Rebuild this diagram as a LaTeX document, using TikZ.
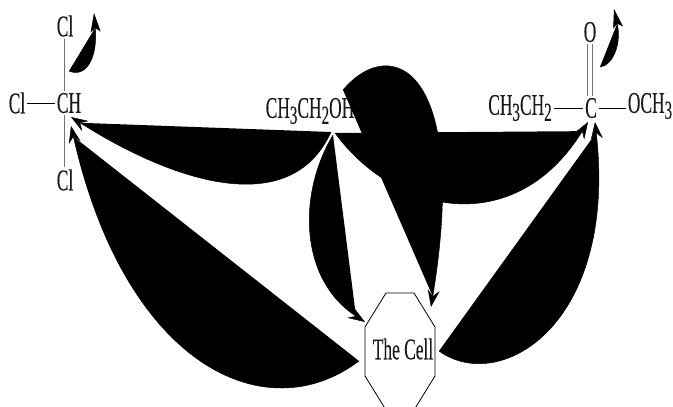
\documentclass[tikz,border=0pt]{standalone}
\usepackage{fontspec}
\setmainfont[FakeStretch=0.58,FakeBold=0.2]{Liberation Serif}
\usetikzlibrary{arrows.meta}
\newcommand{\sbs}[1]{\raisebox{-0.2em}{\fontsize{26}{28}\selectfont #1}}
\tikzset{
  chem/.style={inner sep=0pt,font=\fontsize{30}{32}\selectfont,text=black!90},
  bond/.style={line width=1pt,black,shorten >=2pt,shorten <=2pt},
  graybond/.style={line width=1pt,black!55,shorten >=2pt,shorten <=2pt},
  blob/.style={fill=black,draw=black,line width=0.5pt,-{Stealth[length=17pt,width=12pt,inset=6pt]}},
  smallblob/.style={fill=black,draw=black,line width=0.5pt,-{Stealth[length=19pt,width=10pt,inset=4pt]}},
  cell/.style={draw=black,line width=0.8pt,fill=white}
}
\begin{document}
\begin{tikzpicture}[x=1pt,y=-1pt]
\useasboundingbox (0,0) rectangle (673,407);
% labels
\node[chem] (cltop) at (65,26) {Cl};
\node[chem] (clleft) at (17,103) {Cl};
\node[chem] (ch) at (69,103) {CH};
\node[chem] (clbot) at (65,180) {Cl};
\node[chem] (etoh) at (310,111) {CH\sbs{3}CH\sbs{2}OH};
\node[chem] (ester) at (520,108) {CH\sbs{3}CH\sbs{2}};
\node[chem] (carb) at (591,108) {C};
\node[chem] (meth) at (650,106) {OCH\sbs{3}};
\node[chem] (oxy) at (590,32) {O};
% bonds
\draw[graybond] ([xshift=-1pt]cltop.south) -- ([xshift=-1pt]cltop.south |- ch.north);
\draw[graybond] ([xshift=-1pt]clbot.north) -- ([xshift=-1pt]clbot.north |- ch.south);
\draw[bond] (clleft.east) -- (ch.west);
\draw[graybond] ([xshift=-3pt]oxy.south) -- ([xshift=-3pt]oxy.south |- carb.north);
\draw[graybond] ([xshift=2pt]oxy.south) -- ([xshift=2pt]oxy.south |- carb.north);
\draw[bond] (ester.east) -- (carb.west);
\draw[bond] (carb.east) -- (carb.east -| meth.west);
% anchor coordinates
\coordinate (tipcla) at (94,13);
\coordinate (startcla) at (69,71);
\coordinate (tipo) at (614,9);
\coordinate (starto) at (600,67);
\coordinate (etohA) at (331,132);
\coordinate (etohB) at (333,135);
\coordinate (etohC) at (335,133);
\coordinate (chA) at (71,117);
\coordinate (chB) at (71,126);
\coordinate (cellW) at (359,361);
\coordinate (cellE) at (439,351);
\coordinate (cellNW) at (365,322);
\coordinate (cellNE) at (431,307);
\coordinate (carbA) at (588,122);
\coordinate (carbB) at (595,122);
\coordinate (blobS) at (343,90);
% filled arrows
\draw[smallblob] (startcla) .. controls (85,78) and (98,60) .. (tipcla);
\draw[smallblob] (starto) .. controls (612,66) and (622,45) .. (tipo);
\draw[blob] (cellW) .. controls (265,432) and (125,365) .. (chB);
\draw[blob] (etohA) .. controls (290,222) and (170,180) .. (chA);
\draw[blob] (etohB) .. controls (297,195) and (300,280) .. (cellNW);
\draw[blob] (etohC) .. controls (395,215) and (515,240) .. (carbA);
\draw[blob] (blobS) .. controls (392,32) and (470,70) .. (cellNE);
\draw[blob] (cellE) .. controls (500,395) and (618,325) .. (carbB);
% cell
\draw[cell] (386,293) -- (414,293) -- (435,327) -- (435,376) -- (414,410) -- (386,410) -- (365,376) -- (365,327) -- cycle;
\node[chem] (celltext) at (403,349) {The Cell};
\end{tikzpicture}
\end{document}
